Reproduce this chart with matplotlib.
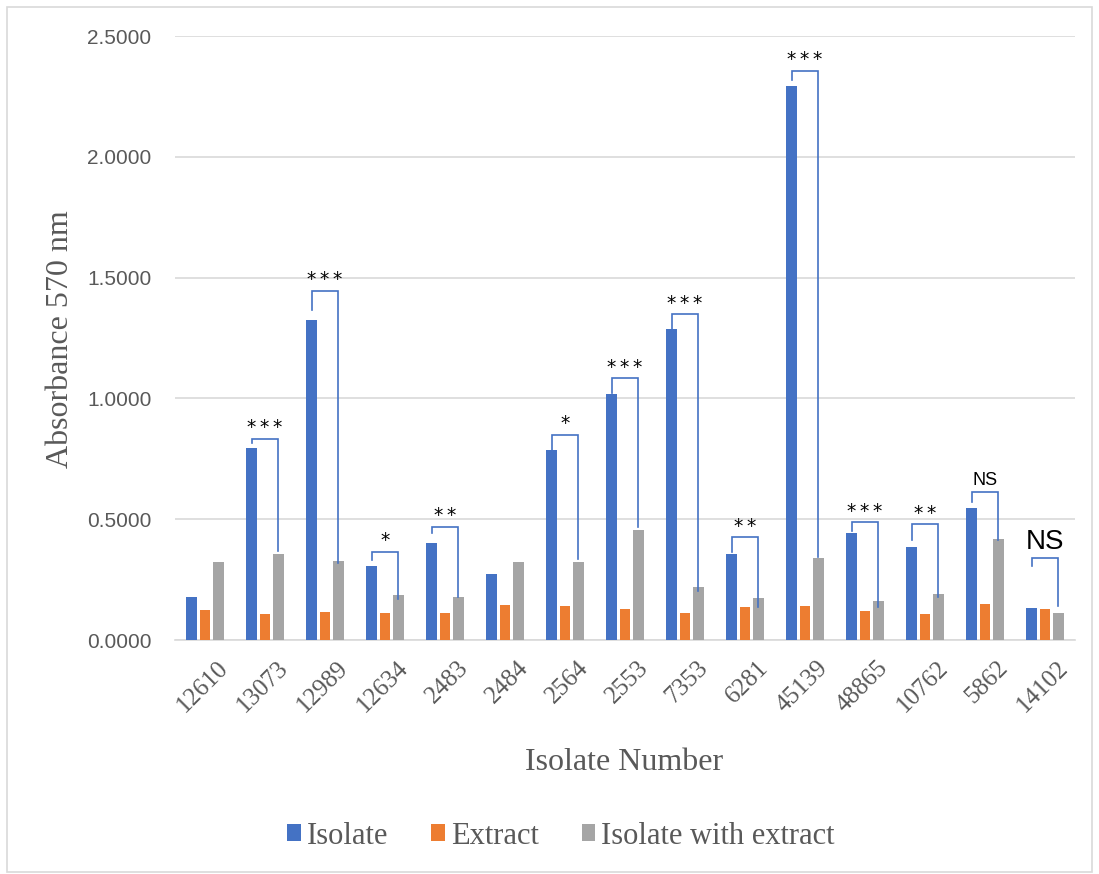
import matplotlib
matplotlib.use("Agg")
import matplotlib.pyplot as plt
import numpy as np
from matplotlib.patches import Rectangle

isolates = ["12610", "13073", "12989", "12634", "2483", "2484", "2564", "2553",
            "7353", "6281", "45139", "48865", "10762", "5862", "14102"]
isolate_vals = [0.177, 0.794, 1.326, 0.307, 0.403, 0.273, 0.786, 1.018,
                1.288, 0.354, 2.291, 0.442, 0.386, 0.546, 0.134]
extract_vals = [0.123, 0.109, 0.116, 0.111, 0.111, 0.144, 0.141, 0.127,
                0.113, 0.137, 0.141, 0.120, 0.108, 0.148, 0.128]
combo_vals = [0.322, 0.356, 0.327, 0.186, 0.178, 0.322, 0.322, 0.455,
              0.220, 0.173, 0.341, 0.160, 0.189, 0.417, 0.112]

# significance brackets: category index, top, left-leg bottom, right-leg bottom, label
sig_idx = [1, 2, 3, 4, 6, 7, 8, 9, 10, 11, 12, 13, 14]
sig_top = [0.833, 1.446, 0.365, 0.469, 0.850, 1.084, 1.349, 0.425, 2.357, 0.488, 0.479, 0.612, 0.341]
sig_left = [0.816, 1.367, 0.330, 0.442, 0.786, 1.024, 1.287, 0.366, 2.317, 0.453, 0.414, 0.573, 0.307]
sig_right = [0.369, 0.320, 0.169, 0.178, 0.337, 0.468, 0.203, 0.135, 0.345, 0.138, 0.179, 0.414, 0.142]
sig_labels = ["***", "***", "*", "**", "*", "***", "***", "**", "***", "***", "**", "NS", "NS"]

blue = "#4472C4"
orange = "#ED7D31"
gray = "#A5A5A5"
txt = "#595959"
serif = ["Liberation Serif", "DejaVu Serif"]

fig = plt.figure(figsize=(10.99, 8.74), dpi=100)
ax = fig.add_axes([175/1099, 1-640/874, 900/1099, 604/874])

x = np.arange(len(isolates))
w = 0.178
off = 0.222
ax.bar(x - off, isolate_vals, w, color=blue, label="Isolate", zorder=3)
ax.bar(x, extract_vals, w, color=orange, label="Extract", zorder=3)
ax.bar(x + off, combo_vals, w, color=gray, label="Isolate with extract", zorder=3)

for i, t, l, r, lab in zip(sig_idx, sig_top, sig_left, sig_right, sig_labels):
    xl = i - off
    xr = i + off
    ax.plot([xl, xl, xr, xr], [l, t, t, r], color=blue, lw=1.2, zorder=4,
            solid_joinstyle="miter")
    if lab == "NS":
        fs = 20 if i == 14 else 13
        ax.text(i, t + 0.012, lab, ha="center", va="bottom", fontsize=fs,
                family="Liberation Sans", color="black")
    else:
        ax.text(i, t + 0.006, "\u2009".join(lab), ha="center", va="bottom", fontsize=13.5,
                family="DejaVu Sans", color="black")

ax.set_xlim(-0.5, len(isolates) - 0.5)
ax.set_ylim(0, 2.5)
ax.set_yticks(np.arange(0, 2.51, 0.5))
ax.set_yticklabels([f"{v:.4f}" for v in np.arange(0, 2.51, 0.5)],
                   fontsize=15, color=txt, family="Liberation Sans")
ax.yaxis.grid(True, color="#D9D9D9", lw=1.2, zorder=0)
ax.set_axisbelow(True)
for s in ["top", "right", "left"]:
    ax.spines[s].set_visible(False)
ax.spines["bottom"].set_color("#D9D9D9")
ax.spines["bottom"].set_linewidth(1.2)
ax.tick_params(axis="both", length=0)
ax.tick_params(axis="y", pad=17)

ax.set_xticks(x + 0.2)
ax.set_xticklabels(isolates, rotation=45, ha="right", rotation_mode="anchor",
                   fontsize=18, color=txt, family=serif)
ax.tick_params(axis="x", pad=12)

fig.text(60/1099, 1-339/874, "Absorbance 570 nm", rotation=90, ha="center", va="center",
         fontsize=23, color=txt, family=serif)
fig.text(624/1099, 1-762/874, "Isolate Number", ha="center", va="center",
         fontsize=23, color=txt, family=serif)

leg = fig.legend(loc="center", bbox_to_anchor=(561/1099, 1-836/874), ncol=3,
                 frameon=False, prop={"family": serif, "size": 22},
                 handlelength=0.45, handleheight=0.45, handletextpad=0.2,
                 columnspacing=1.4)
for t in leg.get_texts():
    t.set_color(txt)

fig.patches.append(Rectangle((7/1099, 0.002), 1085/1099, 1-9/874,
                             transform=fig.transFigure, fill=False,
                             edgecolor="#D9D9D9", lw=1.2))

fig.savefig("out.png", dpi=100)
